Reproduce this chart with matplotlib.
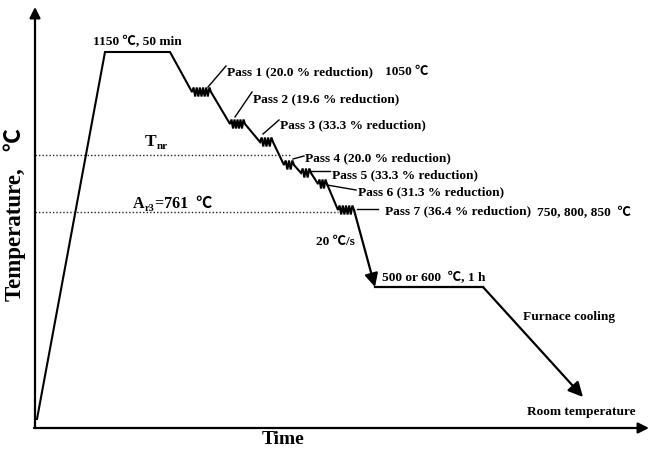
import numpy as np
import matplotlib
matplotlib.use("Agg")
import matplotlib.pyplot as plt

plt.rcParams['font.family'] = ['Liberation Serif', 'Noto Sans CJK SC', 'DejaVu Serif']
plt.rcParams['font.weight'] = 'bold'

# schematic schedule in drawing units (time to the right, temperature up)
heat_t = [37, 105, 170]
heat_T = [32, 399, 399]

pass_names  = ["Pass 1", "Pass 2", "Pass 3", "Pass 4", "Pass 5", "Pass 6", "Pass 7"]
pass_reduct = [20.0, 19.6, 33.3, 20.0, 33.3, 31.3, 36.4]
pass_t0 = [192, 230, 260, 284, 301, 318, 338]
pass_t1 = [211, 245, 273, 294, 311, 327, 354]
pass_T  = [359, 327, 309, 286, 278, 267, 241]

quench_t  = [354, 375]
quench_T  = [241, 164]
hold_t    = [375, 483]
hold_T    = [164, 164]
furnace_t = [483, 583]
furnace_T = [164, 54]

T_nr = 296
A_r3 = 239

# label anchors (left edge, centre) and leader lines for the passes
label_x = [227, 253, 280, 305, 332, 358, 385]
label_y = [380, 353, 327, 294, 277, 260, 241]
lead_from = [(208, 364), (235, 334), (263, 317), (293, 292), (310, 280), (327, 266), (357, 242)]
lead_to   = [(226, 385), (252, 359), (279, 331), (304, 295), (330, 280), (356, 261), (378, 242)]


def zigzag(t0, t1, T, amp=4.5):
    n = max(3, int(round((t1 - t0) / 3.2)))
    xs = np.linspace(t0, t1, 2 * n + 1)
    ys = [T] + [T + amp * (1 if k % 2 == 0 else -1) for k in range(2 * n - 1)] + [T]
    return list(xs), ys


fig = plt.figure(figsize=(6.5, 4.52), dpi=100)
ax = fig.add_axes([0, 0, 1, 1])
ax.set_xlim(0, 650)
ax.set_ylim(0, 452)
ax.axis("off")
renderer = fig.canvas.get_renderer()


def run_text(x, y, pieces):
    # write pieces one after another on a shared baseline (for subscripts)
    for s, size, dy in pieces:
        txt = ax.text(x, y + dy, s, fontsize=size, ha='left', va='baseline')
        bb = txt.get_window_extent(renderer).transformed(ax.transData.inverted())
        x = bb.x1 + 0.3


arrow = dict(arrowstyle='-|>', lw=1.6, color='black', mutation_scale=16,
             shrinkA=0, shrinkB=0)

# axes arrows
ax.annotate('', xy=(35, 444), xytext=(35, 23), arrowprops=arrow)
ax.annotate('', xy=(649, 23), xytext=(34, 23), arrowprops=arrow)

# profile
xs, ys = list(heat_t), list(heat_T)
for t0, t1, T in zip(pass_t0, pass_t1, pass_T):
    zx, zy = zigzag(t0, t1, T)
    xs += zx
    ys += zy
ax.plot(xs, ys, color='black', lw=1.5, solid_joinstyle='miter')
ax.plot(hold_t, hold_T, color='black', lw=1.6)
ax.annotate('', xy=(quench_t[1], quench_T[1]), xytext=(quench_t[0], quench_T[0]),
            arrowprops=dict(arrow, mutation_scale=20))
ax.annotate('', xy=(furnace_t[1], furnace_T[1]), xytext=(furnace_t[0], furnace_T[0]),
            arrowprops=dict(arrow, mutation_scale=22))

# critical temperatures
ax.plot([35, 290], [T_nr, T_nr], color='#222222', lw=1.0, ls=(0, (1, 1.5)))
ax.plot([35, 338], [A_r3, A_r3], color='#222222', lw=1.0, ls=(0, (1, 1.5)))

fs = 9.6
for name, red, lx, ly, p0, p1 in zip(pass_names, pass_reduct, label_x, label_y,
                                      lead_from, lead_to):
    ax.plot([p0[0], p1[0]], [p0[1], p1[1]], color='black', lw=1.0)
    ax.text(lx, ly, f"{name} ({red:.1f} % reduction)", fontsize=fs,
            ha='left', va='center')

ax.text(137, 410, "1150 \u2103, 50 min", fontsize=fs, ha='center', va='center')
ax.text(385, 380, "1050 \u2103", fontsize=fs, ha='left', va='center')
ax.text(537, 239, "750, 800, 850  \u2103", fontsize=fs, ha='left', va='center')
ax.text(316, 210, "20 \u2103/s", fontsize=fs, ha='left', va='center')
ax.text(382, 174, "500 or 600  \u2103, 1 h", fontsize=fs, ha='left', va='center')
ax.text(523, 135, "Furnace cooling", fontsize=fs, ha='left', va='center')
ax.text(527, 40, "Room temperature", fontsize=fs, ha='left', va='center')

# subscripted labels
run_text(145, 306, [("T", 12.5, 0), ("nr", 8, -3)])
run_text(133, 244, [("A", 11.5, 0), ("r3", 7.5, -3), ("=761  \u2103", 11.5, 0)])

ax.text(15, 237, "Temperature,   \u2103", fontsize=16.5, rotation=90, ha='center', va='center')
ax.text(283, 12, "Time", fontsize=14, ha='center', va='center')

fig.savefig("out.png", dpi=100)
